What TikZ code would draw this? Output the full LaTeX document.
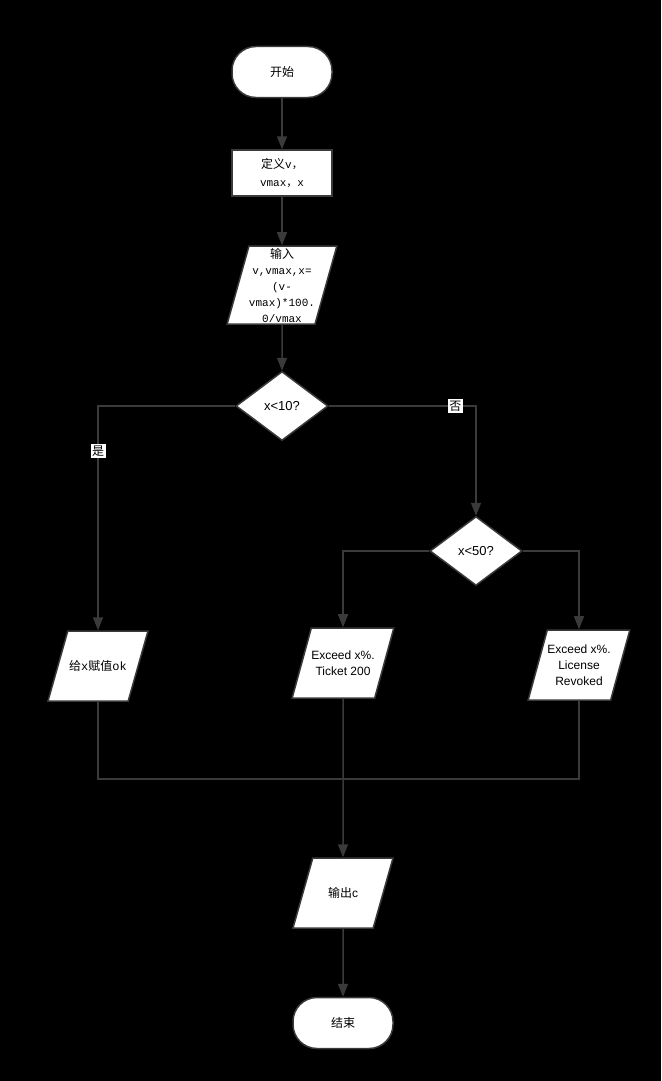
\documentclass[tikz,border=0pt]{standalone}
\usepackage{fontspec}
\setmainfont{Liberation Sans}
\setmonofont{Liberation Mono}
\newfontfamily\cjk{Noto Sans CJK SC}
\usetikzlibrary{shapes, arrows.meta, positioning, calc, fit, backgrounds}
\usetikzlibrary{shapes.geometric}
\definecolor{linegray}{HTML}{3A3A3A}

\begin{document}
\begin{tikzpicture}[x=1pt, y=-1pt, >={Triangle[length=13pt, width=10pt]}, line width=1.5pt, font=\fontsize{12}{16}\selectfont]
		% Define styles
		\tikzstyle{terminal} = [draw=linegray, rectangle, rounded corners=24pt, fill=white, minimum width=100pt, minimum height=51pt, font=\cjk\fontsize{12}{14}\selectfont, align=center]
		\tikzstyle{block} = [draw=linegray, rectangle, fill=white, minimum width=100pt, minimum height=46pt, align=center]
		\tikzstyle{io} = [draw=linegray, trapezium, trapezium left angle=74, trapezium right angle=106, trapezium stretches body, fill=white, minimum width=100pt, minimum height=70pt, inner xsep=0pt, inner ysep=29pt, align=center]
		\tikzstyle{decision} = [draw=linegray, diamond, fill=white, minimum width=92pt, minimum height=69pt, inner sep=0pt, align=center, font=\fontsize{13}{16}\selectfont]
		\tikzstyle{line} = [draw=linegray, ->]
		\tikzstyle{tag} = [fill=white, inner sep=1.5pt, font=\cjk\fontsize{12}{13}\selectfont]

		% Background
		\fill [black] (0,0) rectangle (661,1081);

		% Start
		\node [terminal] (start) at (282,72) {开始};

		% Definitions
		\node [block, font=\fontsize{11}{18}\selectfont] (define) at (282,173) {{\cjk\fontsize{12}{18}\selectfont 定义}\texttt{v}{\cjk ，}\\\texttt{vmax}{\cjk ，}\texttt{x}};

		% Input
		\node [io, minimum width=105pt, minimum height=78pt, inner ysep=1pt, font=\fontsize{11}{16}\selectfont] (input) at (282,285) {{\cjk\fontsize{12}{16}\selectfont 输入}\\\texttt{v,vmax,x=}\\\texttt{(v-}\\\texttt{vmax)*100.}\\\texttt{0/vmax}};

		% Decisions
		\node [decision] (small) at (282,406) {x<10?};
		\node [decision] (medium) at (476,551) {x<50?};

		% Results
		\node [io] (ok) at (98,666) {{\cjk 给}\texttt{x}{\cjk 赋值}\texttt{ok}};
		\node [io, inner ysep=21pt] (ticket) at (343,663) {Exceed x\%.\\Ticket 200};
		\node [io, inner ysep=13pt] (revoke) at (579,665) {Exceed x\%.\\License\\Revoked};

		% Output and end
		\coordinate (merge) at (343,779);
		\node [io] (output) at (343,893) {{\cjk 输出}c};
		\node [terminal] (stop) at (343,1023) {结束};

		% Arrows
		\draw [line] (start) -- (define);
		\draw [line] (define) -- (input);
		\draw [line] (input) -- (small);
		\draw [line] (small.west) -| node[tag, pos=0.6] {是} (ok);
		\draw [line] (small.east) -| node[tag, pos=0.43] {否} (medium);
		\draw [line] (medium.west) -| (ticket);
		\draw [line] (medium.east) -| (revoke);

		% Joining the three branches
		\draw [draw=linegray] (ok) |- (merge);
		\draw [draw=linegray] (revoke) |- (merge);
		\draw [line] (ticket) -- (output);
		\draw [line] (output) -- (stop);

	\end{tikzpicture}
\end{document}
